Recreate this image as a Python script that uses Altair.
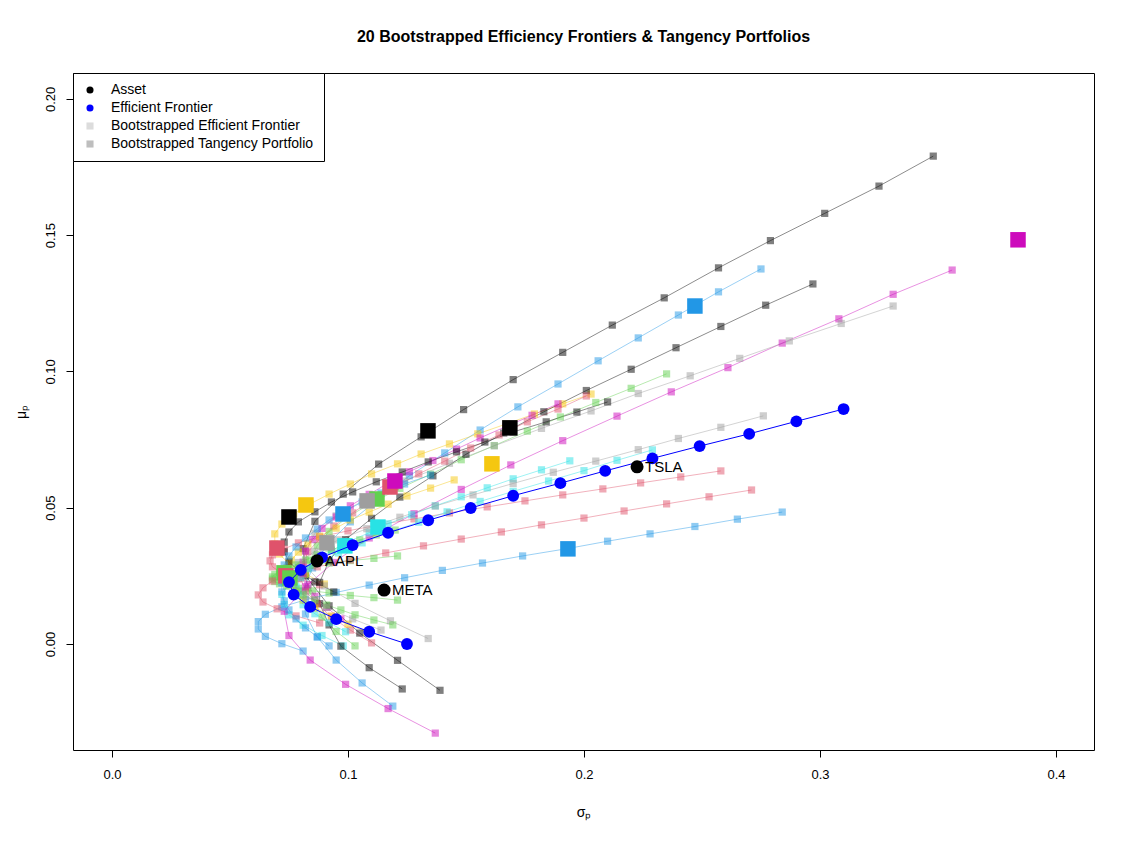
import altair as alt
import pandas as pd

FONT = "Liberation Sans"

# ---------------- data ----------------
# Assets
asset_names = ["AAPL", "META", "TSLA"]
asset_sd = [0.0869, 0.1153, 0.2225]
asset_mu = [0.0305, 0.0198, 0.0650]

# Efficient frontier (sample)
ef_sd = [0.125, 0.109, 0.095, 0.084, 0.077, 0.075, 0.080, 0.089, 0.102, 0.117,
         0.134, 0.152, 0.170, 0.190, 0.209, 0.229, 0.249, 0.270, 0.290, 0.310]
ef_mu = [0.0000, 0.0045, 0.0091, 0.0136, 0.0181, 0.0227, 0.0272, 0.0318, 0.0363, 0.0408,
         0.0454, 0.0499, 0.0544, 0.0590, 0.0635, 0.0681, 0.0726, 0.0771, 0.0817, 0.0862]

# Bootstrapped frontiers (20 points each)
f01_sd = [0.348, 0.325, 0.302, 0.279, 0.257, 0.234, 0.212, 0.191, 0.170, 0.149, 0.131, 0.113, 0.098, 0.086, 0.081, 0.082, 0.092, 0.105, 0.121, 0.139]
f01_mu = [0.179, 0.168, 0.158, 0.148, 0.138, 0.127, 0.117, 0.107, 0.097, 0.086, 0.076, 0.066, 0.055, 0.045, 0.035, 0.025, 0.014, 0.004, -0.006, -0.017]
f02_sd = [0.258, 0.241, 0.224, 0.208, 0.191, 0.175, 0.159, 0.143, 0.128, 0.113, 0.100, 0.088, 0.079, 0.073, 0.068, 0.067, 0.068, 0.072, 0.079, 0.088]
f02_mu = [0.0635, 0.0613, 0.0591, 0.0569, 0.0547, 0.0525, 0.0503, 0.0481, 0.0459, 0.0437, 0.0415, 0.0393, 0.0371, 0.0349, 0.0327, 0.0305, 0.0283, 0.0261, 0.0239, 0.0217]
f03_sd = [0.235, 0.220, 0.205, 0.190, 0.176, 0.162, 0.148, 0.135, 0.122, 0.110, 0.100, 0.092, 0.087, 0.084, 0.082, 0.083, 0.086, 0.089, 0.095, 0.103]
f03_mu = [0.0991, 0.0938, 0.0886, 0.0833, 0.0781, 0.0728, 0.0676, 0.0623, 0.0571, 0.0518, 0.0466, 0.0413, 0.0361, 0.0308, 0.0256, 0.0203, 0.0151, 0.0098, 0.0046, -0.0007]
f04_sd = [0.275, 0.257, 0.240, 0.223, 0.206, 0.189, 0.172, 0.156, 0.141, 0.126, 0.113, 0.101, 0.091, 0.085, 0.081, 0.082, 0.087, 0.095, 0.106, 0.119]
f04_mu = [0.1376, 0.1292, 0.1207, 0.1123, 0.1039, 0.0954, 0.0870, 0.0785, 0.0701, 0.0617, 0.0532, 0.0448, 0.0363, 0.0279, 0.0195, 0.0110, 0.0026, -0.0059, -0.0143, -0.0228]
f05_sd = [0.229, 0.214, 0.200, 0.185, 0.170, 0.156, 0.142, 0.130, 0.117, 0.106, 0.096, 0.087, 0.080, 0.075, 0.072, 0.073, 0.075, 0.081, 0.089, 0.098]
f05_mu = [0.0712, 0.0674, 0.0636, 0.0598, 0.0560, 0.0523, 0.0485, 0.0447, 0.0409, 0.0371, 0.0334, 0.0296, 0.0258, 0.0220, 0.0182, 0.0145, 0.0107, 0.0069, 0.0031, -0.0007]
f06_sd = [0.356, 0.331, 0.308, 0.284, 0.261, 0.237, 0.214, 0.191, 0.169, 0.148, 0.128, 0.109, 0.094, 0.082, 0.073, 0.075, 0.084, 0.099, 0.117, 0.137]
f06_mu = [0.1372, 0.1283, 0.1193, 0.1104, 0.1014, 0.0925, 0.0836, 0.0746, 0.0657, 0.0567, 0.0478, 0.0389, 0.0299, 0.0210, 0.0120, 0.0031, -0.0059, -0.0148, -0.0237, -0.0327]
f07_sd = [0.203, 0.191, 0.179, 0.167, 0.155, 0.143, 0.131, 0.121, 0.110, 0.101, 0.092, 0.084, 0.077, 0.072, 0.069, 0.069, 0.071, 0.075, 0.082, 0.090]
f07_mu = [0.0917, 0.0881, 0.0844, 0.0807, 0.0771, 0.0734, 0.0697, 0.0661, 0.0624, 0.0587, 0.0550, 0.0514, 0.0477, 0.0440, 0.0404, 0.0367, 0.0330, 0.0294, 0.0257, 0.0220]
f08_sd = [0.331, 0.309, 0.287, 0.266, 0.245, 0.223, 0.203, 0.182, 0.162, 0.143, 0.124, 0.108, 0.095, 0.086, 0.082, 0.083, 0.090, 0.103, 0.118, 0.134]
f08_mu = [0.1240, 0.1176, 0.1112, 0.1048, 0.0984, 0.0919, 0.0855, 0.0791, 0.0727, 0.0663, 0.0598, 0.0534, 0.0470, 0.0406, 0.0342, 0.0277, 0.0213, 0.0149, 0.0085, 0.0020]
f09_sd = [0.297, 0.277, 0.258, 0.239, 0.220, 0.201, 0.183, 0.166, 0.150, 0.136, 0.122, 0.110, 0.099, 0.092, 0.088, 0.088, 0.092, 0.097, 0.109, 0.123]
f09_mu = [0.1321, 0.1243, 0.1165, 0.1087, 0.1008, 0.0930, 0.0852, 0.0774, 0.0696, 0.0617, 0.0539, 0.0461, 0.0383, 0.0305, 0.0226, 0.0148, 0.0070, -0.0008, -0.0087, -0.0165]
f10_sd = [0.201, 0.189, 0.176, 0.164, 0.152, 0.141, 0.130, 0.120, 0.110, 0.102, 0.094, 0.088, 0.083, 0.081, 0.080, 0.082, 0.087, 0.093, 0.101, 0.110]
f10_mu = [0.0910, 0.0862, 0.0815, 0.0767, 0.0719, 0.0671, 0.0624, 0.0576, 0.0528, 0.0481, 0.0433, 0.0385, 0.0338, 0.0290, 0.0242, 0.0194, 0.0147, 0.0099, 0.0051, 0.0004]
f11_sd = [0.121, 0.111, 0.101, 0.092, 0.085, 0.079, 0.074, 0.071, 0.069, 0.068, 0.068, 0.069, 0.071, 0.074, 0.079, 0.085, 0.092, 0.101, 0.111, 0.121]
f11_mu = [0.0323, 0.0314, 0.0306, 0.0297, 0.0289, 0.0280, 0.0272, 0.0263, 0.0255, 0.0246, 0.0238, 0.0229, 0.0221, 0.0212, 0.0204, 0.0195, 0.0187, 0.0178, 0.0170, 0.0161]
f12_sd = [0.284, 0.265, 0.247, 0.228, 0.210, 0.193, 0.174, 0.157, 0.140, 0.124, 0.109, 0.095, 0.082, 0.072, 0.065, 0.062, 0.062, 0.065, 0.072, 0.081]
f12_mu = [0.0484, 0.0458, 0.0431, 0.0404, 0.0377, 0.0350, 0.0323, 0.0297, 0.0270, 0.0243, 0.0216, 0.0189, 0.0162, 0.0136, 0.0109, 0.0082, 0.0055, 0.0028, 0.0001, -0.0026]
f13_sd = [0.194, 0.182, 0.170, 0.159, 0.148, 0.137, 0.127, 0.117, 0.109, 0.100, 0.093, 0.087, 0.083, 0.080, 0.078, 0.079, 0.081, 0.086, 0.092, 0.099]
f13_mu = [0.0672, 0.0639, 0.0606, 0.0573, 0.0540, 0.0507, 0.0474, 0.0441, 0.0408, 0.0375, 0.0342, 0.0309, 0.0276, 0.0243, 0.0210, 0.0177, 0.0144, 0.0111, 0.0078, 0.0045]
f14_sd = [0.189, 0.178, 0.167, 0.156, 0.146, 0.136, 0.126, 0.117, 0.109, 0.101, 0.095, 0.089, 0.085, 0.082, 0.081, 0.081, 0.083, 0.086, 0.091, 0.097]
f14_mu = [0.0881, 0.0839, 0.0798, 0.0756, 0.0715, 0.0673, 0.0632, 0.0590, 0.0549, 0.0507, 0.0466, 0.0424, 0.0383, 0.0341, 0.0300, 0.0258, 0.0217, 0.0175, 0.0134, 0.0092]
f15_sd = [0.145, 0.135, 0.125, 0.117, 0.109, 0.101, 0.095, 0.088, 0.083, 0.079, 0.076, 0.074, 0.074, 0.075, 0.078, 0.081, 0.086, 0.093, 0.100, 0.108]
f15_mu = [0.0602, 0.0572, 0.0543, 0.0513, 0.0484, 0.0455, 0.0425, 0.0396, 0.0367, 0.0337, 0.0308, 0.0279, 0.0249, 0.0220, 0.0191, 0.0161, 0.0132, 0.0103, 0.0073, 0.0044]
f16_sd = [0.276, 0.258, 0.240, 0.223, 0.205, 0.187, 0.170, 0.153, 0.137, 0.122, 0.108, 0.096, 0.086, 0.079, 0.076, 0.077, 0.082, 0.091, 0.102, 0.114]
f16_mu = [0.0837, 0.0795, 0.0754, 0.0713, 0.0671, 0.0630, 0.0589, 0.0547, 0.0506, 0.0465, 0.0423, 0.0382, 0.0340, 0.0299, 0.0258, 0.0216, 0.0175, 0.0134, 0.0092, 0.0051]
f17_sd = [0.210, 0.197, 0.184, 0.170, 0.158, 0.146, 0.134, 0.123, 0.112, 0.102, 0.093, 0.086, 0.079, 0.075, 0.073, 0.073, 0.075, 0.080, 0.086, 0.094]
f17_mu = [0.0888, 0.0851, 0.0815, 0.0778, 0.0741, 0.0705, 0.0668, 0.0631, 0.0595, 0.0558, 0.0521, 0.0485, 0.0448, 0.0411, 0.0374, 0.0338, 0.0301, 0.0264, 0.0228, 0.0191]
f18_sd = [0.271, 0.253, 0.235, 0.217, 0.200, 0.182, 0.165, 0.148, 0.132, 0.116, 0.101, 0.087, 0.076, 0.068, 0.064, 0.062, 0.064, 0.070, 0.078, 0.088]
f18_mu = [0.0565, 0.0540, 0.0514, 0.0488, 0.0462, 0.0437, 0.0411, 0.0385, 0.0360, 0.0334, 0.0308, 0.0283, 0.0257, 0.0231, 0.0206, 0.0180, 0.0154, 0.0129, 0.0103, 0.0077]
f19_sd = [0.120, 0.112, 0.105, 0.099, 0.093, 0.087, 0.082, 0.078, 0.075, 0.074, 0.073, 0.075, 0.078, 0.081, 0.086, 0.091, 0.097, 0.103, 0.111, 0.119]
f19_mu = [0.0418, 0.0400, 0.0382, 0.0363, 0.0345, 0.0327, 0.0308, 0.0290, 0.0272, 0.0253, 0.0235, 0.0217, 0.0198, 0.0180, 0.0162, 0.0143, 0.0125, 0.0107, 0.0088, 0.0070]
f20_sd = [0.135, 0.124, 0.114, 0.106, 0.099, 0.092, 0.087, 0.082, 0.078, 0.075, 0.073, 0.072, 0.072, 0.072, 0.073, 0.075, 0.078, 0.082, 0.087, 0.092]
f20_mu = [0.0620, 0.0587, 0.0554, 0.0521, 0.0488, 0.0455, 0.0422, 0.0389, 0.0356, 0.0323, 0.0290, 0.0257, 0.0224, 0.0191, 0.0158, 0.0125, 0.0092, 0.0059, 0.0026, -0.0007]

# Tangency portfolios (one per bootstrap, same order)
tan_sd = [0.1339, 0.0699, 0.1123, 0.2470, 0.1127, 0.3839, 0.0822, 0.1081, 0.1686, 0.1178,
          0.0729, 0.1932, 0.0987, 0.1199, 0.1610, 0.0911, 0.0750, 0.0737, 0.0754, 0.0979]
tan_mu = [0.0782, 0.0352, 0.0532, 0.1240, 0.0429, 0.1483, 0.0510, 0.0525, 0.0793, 0.0576,
          0.0261, 0.0349, 0.0360, 0.0598, 0.0661, 0.0371, 0.0466, 0.0250, 0.0242, 0.0477]

legend_items = ["Asset", "Efficient Frontier", "Bootstrapped Efficient Frontier", "Bootstrapped Tangency Portfolio"]

PALETTE = ["#000000", "#DF536B", "#61D04F", "#2297E6", "#28E2E5", "#CD0BBC", "#F5C710", "#9E9E9E"]

# ---------------- tables ----------------
boot = [(f01_sd, f01_mu), (f02_sd, f02_mu), (f03_sd, f03_mu), (f04_sd, f04_mu), (f05_sd, f05_mu),
        (f06_sd, f06_mu), (f07_sd, f07_mu), (f08_sd, f08_mu), (f09_sd, f09_mu), (f10_sd, f10_mu),
        (f11_sd, f11_mu), (f12_sd, f12_mu), (f13_sd, f13_mu), (f14_sd, f14_mu), (f15_sd, f15_mu),
        (f16_sd, f16_mu), (f17_sd, f17_mu), (f18_sd, f18_mu), (f19_sd, f19_mu), (f20_sd, f20_mu)]
rows = []
for k, (sds, mus) in enumerate(boot):
    for j, (s, m) in enumerate(zip(sds, mus)):
        rows.append({"fid": k, "idx": j, "sd": s, "mu": m})
boot_df = pd.DataFrame(rows)
tan_df = pd.DataFrame({"fid": list(range(20)), "sd": tan_sd, "mu": tan_mu})
ef_df = pd.DataFrame({"idx": list(range(len(ef_sd))), "sd": ef_sd, "mu": ef_mu})
asset_df = pd.DataFrame({"name": asset_names, "sd": asset_sd, "mu": asset_mu})
leg_df = pd.DataFrame({"item": legend_items, "sd": [-1.0] * 4, "mu": [-1.0] * 4})
fcolors = [PALETTE[k % 8] for k in range(20)]

# ---------------- encodings ----------------
X = alt.X("sd:Q",
          scale=alt.Scale(domain=[-0.0165, 0.4161], nice=False, zero=False),
          axis=alt.Axis(values=[0.0, 0.1, 0.2, 0.3, 0.4], format=".1f", grid=False, domain=False,
                        tickSize=7, tickColor="black", labelFont=FONT, labelFontSize=13,
                        labelColor="black", labelPadding=11, title="σₚ", titleFont=FONT,
                        titleFontSize=14, titleFontWeight="normal", titleColor="black",
                        titlePadding=24))
Y = alt.Y("mu:Q",
          scale=alt.Scale(domain=[-0.0389, 0.2095], nice=False, zero=False),
          axis=alt.Axis(values=[0.0, 0.05, 0.10, 0.15, 0.20], format=".2f", grid=False, domain=False,
                        tickSize=7, tickColor="black", labelFont=FONT, labelFontSize=13,
                        labelColor="black", labelAngle=270, labelAlign="center",
                        labelBaseline="bottom", labelPadding=9, title="μₚ", titleFont=FONT,
                        titleFontSize=14, titleFontWeight="normal", titleColor="black",
                        titlePadding=16))
fcolor = alt.Color("fid:N", scale=alt.Scale(domain=list(range(20)), range=fcolors), legend=None)

lines = alt.Chart(boot_df).mark_line(strokeWidth=1, opacity=0.45, clip=True).encode(
    x=X, y=Y, color=fcolor, detail="fid:N", order="idx:Q")
squares = alt.Chart(boot_df).mark_square(size=52, opacity=0.5, filled=True, clip=True).encode(
    x=X, y=Y, color=fcolor)
tangency = alt.Chart(tan_df).mark_square(size=240, opacity=1, filled=True, clip=True).encode(
    x=X, y=Y, color=fcolor)

ef_line = alt.Chart(ef_df).mark_line(color="#0000FF", strokeWidth=1).encode(x=X, y=Y, order="idx:Q")
ef_pts = alt.Chart(ef_df).mark_circle(color="#0000FF", size=140, opacity=1).encode(x=X, y=Y)

asset_pts = alt.Chart(asset_df).mark_circle(color="black", size=170, opacity=1).encode(x=X, y=Y)
asset_txt = alt.Chart(asset_df).mark_text(align="left", baseline="middle", dx=8, fontSize=15,
                                          font=FONT, color="black").encode(x=X, y=Y, text="name:N")

leg = alt.Legend(title=None, orient="top-left", offset=0, padding=10, strokeColor="black",
                 fillColor="white", labelFont=FONT, labelFontSize=14, labelColor="black",
                 labelLimit=0, symbolSize=50, rowPadding=4, labelOffset=14, symbolStrokeWidth=0)
legend_layer = alt.Chart(leg_df).mark_point(filled=True, clip=True, opacity=1).encode(
    x=X, y=Y,
    color=alt.Color("item:N", scale=alt.Scale(domain=legend_items,
                                              range=["#000000", "#0000FF", "#DCDCDC", "#BEBEBE"]),
                    legend=leg),
    shape=alt.Shape("item:N", scale=alt.Scale(domain=legend_items,
                                              range=["circle", "circle", "square", "square"]),
                    legend=leg))

chart = alt.layer(
    lines, squares, tangency, ef_line, ef_pts, asset_pts, asset_txt, legend_layer
).resolve_scale(
    color="independent", shape="independent"
).properties(
    width=1021, height=677,
    title=alt.TitleParams("20 Bootstrapped Efficiency Frontiers & Tangency Portfolios",
                          font=FONT, fontSize=16, fontWeight="bold", color="black",
                          anchor="middle", offset=28),
    autosize=alt.AutoSizeParams(type="none"),
    padding={"left": 65, "top": 65, "right": 30, "bottom": 86},
    background="white",
).configure_view(stroke="black", strokeWidth=1)

chart.save("out.html", embed_options={"renderer": "svg", "actions": False})
